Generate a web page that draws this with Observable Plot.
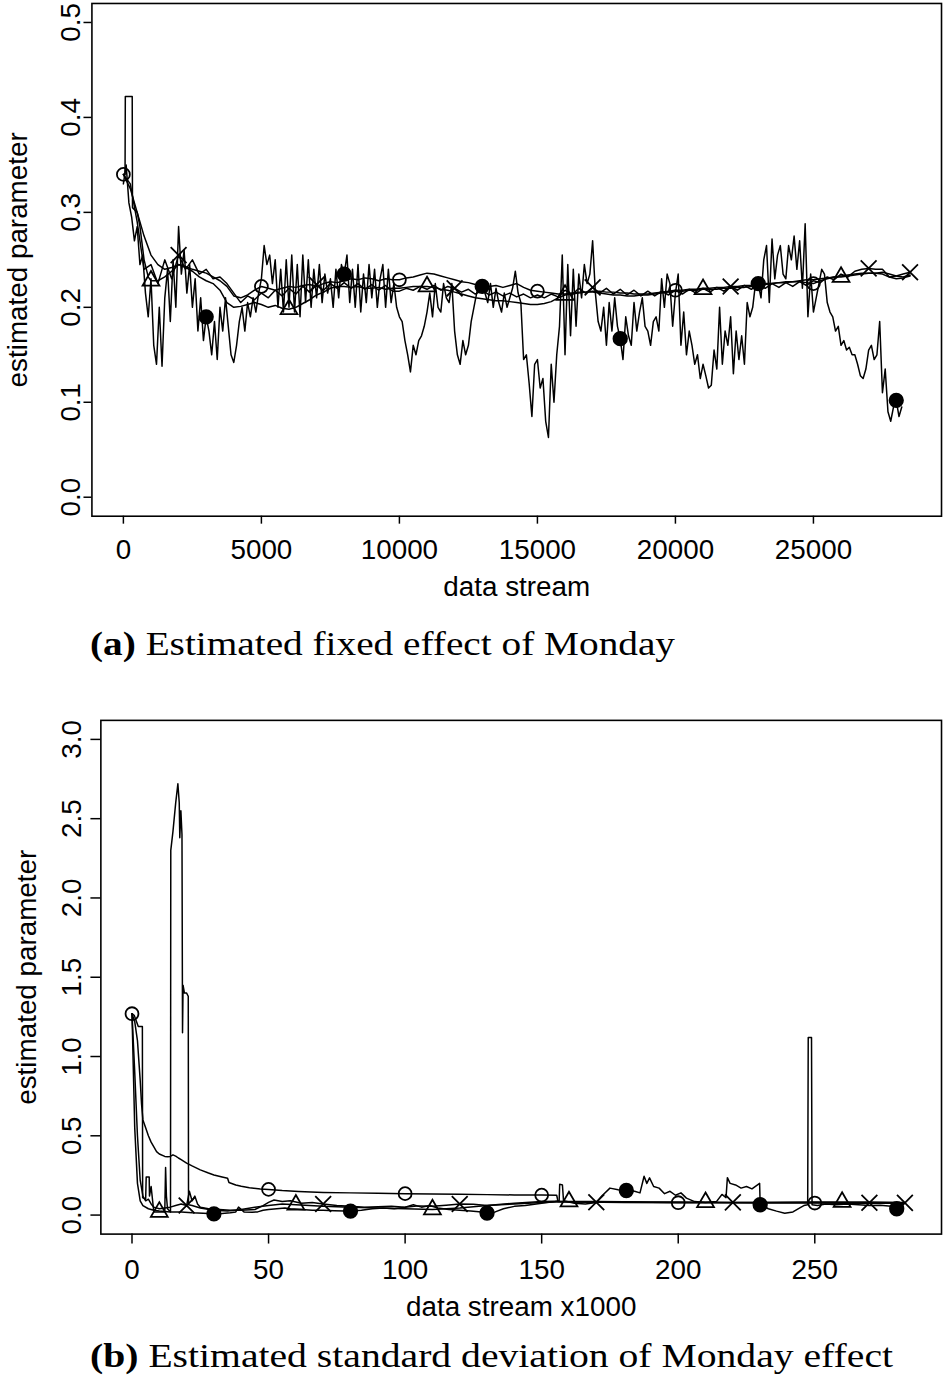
<!DOCTYPE html>
<html><head><meta charset="utf-8">
<script src="https://cdn.jsdelivr.net/npm/d3@7"></script>
<script src="https://cdn.jsdelivr.net/npm/@observablehq/plot@0.6"></script>
<style>
body{margin:0;background:#fff;width:944px;height:1376px;overflow:hidden;position:relative}
.panel{position:absolute;left:0;width:944px;overflow:hidden}
.cap{position:absolute;left:90px;font-family:"Liberation Serif","Times New Roman",serif;font-size:33px;white-space:nowrap;transform-origin:0 0;line-height:1;color:#000}
</style></head><body>
<div id="pa" class="panel" style="top:0;height:615px"></div>
<div id="capa" class="cap" style="top:628px"><b>(a)</b> Estimated fixed effect of Monday</div>
<div id="pb" class="panel" style="top:700px;height:640px"></div>
<div id="capb" class="cap" style="top:1340px"><b>(b)</b> Estimated standard deviation of Monday effect</div>
<script>
// ---------- Panel (a): estimated fixed effect of Monday ----------
const aXTicks = [0, 5000, 10000, 15000, 20000, 25000];
const aYTicks = [0, 0.1, 0.2, 0.3, 0.4, 0.5];
const aXLabel = "data stream";
// series A (open circle), step 250 from 0
const aStepA = 250;
const aA = [0.340,0.325,0.300,0.275,0.255,0.245,0.240,0.242,
0.245,0.243,0.240,0.238,0.236,0.232,0.228,0.222,
0.212,0.210,0.213,0.218,0.222,0.220,0.218,0.220,
0.222,0.221,0.223,0.224,0.222,0.225,0.227,0.226,
0.228,0.230,0.229,0.231,0.230,0.228,0.230,0.229,
0.229,0.231,0.232,0.234,0.236,0.235,0.233,0.231,
0.229,0.227,0.226,0.224,0.222,0.222,0.223,0.221,
0.223,0.225,0.221,0.218,0.217,0.216,0.215,0.214,
0.214,0.215,0.216,0.216,0.217,0.217,0.216,0.216,
0.215,0.215,0.214,0.214,0.214,0.215,0.216,0.217,
0.218,0.218,0.219,0.219,0.220,0.220,0.221,0.221,
0.222,0.222,0.223,0.223,0.224,0.225,0.225,0.226,
0.226,0.227,0.227,0.226,0.225,0.228,0.230,0.232,
0.233,0.234,0.235,0.236,0.236,0.236,0.237,0.235,
0.233,0.232,0.234];
// series B (triangle), [x, value]
const aB = [[0,0.340],[60,0.340],[70,0.422],[320,0.422],[330,0.305],[500,0.300],[600,0.285],[750,0.250],[900,0.232],[1000,0.228],[1250,0.228],[1500,0.232],[1750,0.238],[2000,0.245],[2250,0.242],[2500,0.238],[2750,0.232],[3000,0.228],[3250,0.225],[3500,0.218],[3750,0.205],[4000,0.200],[4250,0.201],[4500,0.203],[4750,0.205],[5000,0.203],[5250,0.200],[5500,0.202],[5750,0.199],[6000,0.198],[6250,0.200],[6500,0.204],[6750,0.208],[7000,0.213],[7250,0.216],[7500,0.220],[7750,0.222],[8000,0.222],[8250,0.221],[8500,0.222],[8750,0.220],[9000,0.220],[9250,0.221],[9500,0.219],[9750,0.220],[10000,0.220],[10250,0.221],[10500,0.222],[10750,0.222],[11000,0.222],[11250,0.221],[11500,0.219],[11750,0.218],[12000,0.216],[12250,0.214],[12500,0.212],[12750,0.210],[13000,0.209],[13250,0.208],[13500,0.207],[13750,0.207],[14000,0.206],[14250,0.205],[14500,0.204],[14750,0.203],[15000,0.203],[15250,0.204],[15500,0.206],[15750,0.210],[16000,0.213],[16250,0.214],[16500,0.215],[16750,0.216],[17000,0.216],[17250,0.215],[17500,0.214],[17750,0.213],[18000,0.213],[18250,0.212],[18500,0.212],[18750,0.213],[19000,0.213],[19250,0.214],[19500,0.215],[19750,0.216],[20000,0.217],[20250,0.217],[20500,0.218],[20750,0.218],[21000,0.219],[21250,0.219],[21500,0.219],[21750,0.220],[22000,0.220],[22250,0.221],[22500,0.221],[22750,0.222],[23000,0.223],[23250,0.224],[23500,0.225],[23750,0.226],[24000,0.227],[24250,0.227],[24500,0.228],[24750,0.229],[25000,0.229],[25250,0.230],[25500,0.231],[25750,0.232],[26000,0.232],[26250,0.233],[26500,0.234],[26750,0.235],[27000,0.236],[27250,0.236],[27500,0.235],[27750,0.232],[28000,0.230],[28250,0.231],[28500,0.233]];
// series C (cross), step 250 from 0
const aStepC = 250;
const aC = [0.340,0.330,0.290,0.240,0.245,0.225,0.250,0.230,
0.255,0.240,0.250,0.235,0.240,0.230,0.232,0.225,
0.215,0.205,0.212,0.208,0.215,0.210,0.218,0.212,
0.220,0.214,0.222,0.216,0.224,0.218,0.225,0.220,
0.226,0.220,0.225,0.219,0.224,0.218,0.223,0.217,
0.217,0.220,0.218,0.222,0.219,0.223,0.218,0.222,
0.220,0.216,0.219,0.214,0.218,0.213,0.216,0.212,
0.215,0.211,0.214,0.210,0.213,0.210,0.214,0.211,
0.218,0.213,0.220,0.215,0.221,0.215,0.220,0.214,
0.219,0.213,0.218,0.212,0.217,0.212,0.217,0.213,
0.218,0.214,0.219,0.215,0.220,0.216,0.221,0.217,
0.222,0.218,0.223,0.219,0.224,0.220,0.225,0.221,
0.226,0.222,0.227,0.223,0.228,0.226,0.232,0.229,
0.235,0.232,0.238,0.240,0.241,0.240,0.240,0.232,
0.233,0.235,0.237];
// series D (filled circle), step 100 from 0
const aStepD = 100;
const aD = [0.330,0.350,0.310,0.295,0.270,0.285,0.245,0.255,0.215,0.190,
0.230,0.160,0.140,0.200,0.138,0.210,0.240,0.185,0.250,0.200,
0.285,0.235,0.260,0.215,0.245,0.200,0.230,0.175,0.210,0.165,
0.190,0.175,0.150,0.185,0.145,0.200,0.175,0.210,0.180,0.150,
0.142,0.160,0.185,0.200,0.175,0.205,0.190,0.210,0.195,0.215,
0.230,0.265,0.245,0.255,0.225,0.250,0.200,0.240,0.195,0.250,
0.200,0.255,0.195,0.245,0.190,0.255,0.205,0.250,0.200,0.240,
0.210,0.245,0.205,0.235,0.215,0.230,0.200,0.240,0.210,0.245,
0.235,0.255,0.205,0.240,0.200,0.245,0.195,0.235,0.205,0.245,
0.210,0.240,0.200,0.230,0.245,0.200,0.240,0.205,0.225,0.200,
0.190,0.185,0.165,0.150,0.132,0.160,0.150,0.165,0.170,0.180,
0.195,0.215,0.190,0.225,0.200,0.195,0.225,0.210,0.205,0.225,
0.175,0.150,0.140,0.165,0.150,0.160,0.185,0.200,0.215,0.225,
0.222,0.215,0.205,0.225,0.200,0.220,0.205,0.195,0.215,0.200,
0.210,0.220,0.238,0.215,0.205,0.145,0.150,0.120,0.085,0.140,
0.145,0.115,0.125,0.080,0.063,0.140,0.100,0.150,0.180,0.255,
0.150,0.245,0.170,0.240,0.180,0.235,0.210,0.245,0.225,0.235,
0.270,0.215,0.185,0.175,0.200,0.160,0.205,0.175,0.210,0.180,
0.167,0.145,0.190,0.170,0.160,0.205,0.175,0.195,0.210,0.180,
0.175,0.160,0.185,0.190,0.175,0.230,0.200,0.235,0.225,0.180,
0.215,0.235,0.160,0.195,0.150,0.175,0.160,0.140,0.150,0.125,
0.140,0.128,0.115,0.118,0.155,0.135,0.200,0.140,0.175,0.160,
0.190,0.130,0.175,0.145,0.170,0.140,0.205,0.190,0.200,0.225,
0.225,0.210,0.250,0.265,0.205,0.272,0.230,0.255,0.265,0.235,
0.230,0.265,0.250,0.275,0.240,0.270,0.220,0.288,0.190,0.235,
0.195,0.210,0.225,0.240,0.235,0.205,0.195,0.190,0.175,0.180,
0.160,0.165,0.155,0.158,0.150,0.150,0.140,0.128,0.125,0.135,
0.155,0.160,0.145,0.150,0.185,0.110,0.135,0.090,0.080,0.095,
0.102,0.085,0.095];
const aMarkA = [0,5000,10000,15000,20000,25000];
const aMarkB = [1000,6000,11000,16000,21000,26000];
const aMarkC = [2000,7000,12000,17000,22000,27000,28500];
const aMarkD = [3000,8000,13000,18000,23000,28000];

// ---------- Panel (b): estimated standard deviation of Monday effect ----------
const bXTicks = [0, 50, 100, 150, 200, 250];
const bYTicks = [0, 0.5, 1, 1.5, 2, 2.5, 3];
const bXLabel = "data stream x1000";
const bA = [[0,1.27],[1,1.22],[2,1.10],[3,0.85],[3.5,0.70],[4,0.60],[5,0.55],[6,0.50],[7,0.46],[8,0.43],[9,0.40],[10,0.385],[12,0.37],[13,0.368],[14,0.37],[15,0.38],[16,0.372],[17,0.36],[18,0.35],[20,0.328],[22,0.31],[25,0.285],[28,0.265],[30,0.253],[33,0.24],[35,0.232],[35.5,0.205],[38,0.19],[40,0.182],[43,0.172],[47,0.165],[50,0.162],[55,0.155],[61,0.149],[70,0.143],[80,0.140],[90,0.137],[100,0.135],[110,0.133],[120,0.131],[130,0.129],[140,0.127],[150,0.126],[155.5,0.125],[156,0.085],[165,0.083],[180,0.080],[200,0.078],[220,0.077],[240,0.076],[250,0.076],[260,0.075],[270,0.075],[283,0.074]];
const bB = [[0,1.27],[0.8,1.26],[2.3,1.19],[3.8,1.19],[3.9,0.11],[5.0,0.10],[5.2,0.24],[6.3,0.24],[6.4,0.12],[7.0,0.18],[7.8,0.05],[8.0,0.02],[10,0.02],[12.0,0.02],[12.3,0.30],[12.6,0.12],[13.0,0.04],[14.1,0.02],[14.2,2.30],[15.0,2.42],[16.0,2.60],[16.8,2.72],[17.3,2.60],[17.5,2.38],[17.9,2.55],[18.3,2.40],[18.5,1.15],[18.7,1.45],[19.2,1.40],[20.0,1.40],[20.6,1.38],[20.7,0.065],[22,0.06],[25,0.045],[30,0.03],[35,0.025],[40,0.035],[45,0.05],[50,0.06],[55,0.07],[60,0.065],[65,0.06],[70,0.055],[80,0.05],[90,0.045],[100,0.04],[110,0.035],[120,0.045],[130,0.06],[140,0.075],[150,0.085],[155,0.088],[160,0.086],[170,0.085],[180,0.084],[190,0.083],[200,0.082],[210,0.081],[220,0.080],[230,0.080],[240,0.081],[250,0.082],[260,0.083],[270,0.082],[283,0.080]];
const bC = [[0,1.27],[1,0.90],[2,0.50],[3,0.22],[4,0.12],[5,0.09],[6,0.10],[7,0.07],[8,0.05],[10,0.04],[12,0.045],[14,0.05],[16,0.06],[18,0.07],[20,0.06],[21,0.15],[22,0.09],[23,0.12],[24,0.07],[25,0.05],[28,0.04],[32,0.035],[36,0.03],[40,0.03],[45,0.035],[48,0.06],[50,0.08],[52,0.095],[55,0.085],[58,0.09],[62,0.075],[66,0.08],[70,0.07],[75,0.06],[80,0.055],[85,0.05],[90,0.052],[95,0.055],[100,0.05],[105,0.058],[110,0.055],[115,0.062],[120,0.07],[125,0.068],[130,0.06],[135,0.065],[140,0.07],[145,0.075],[150,0.08],[155,0.083],[160,0.082],[170,0.081],[180,0.082],[190,0.081],[200,0.080],[210,0.080],[220,0.080],[230,0.080],[240,0.079],[250,0.079],[260,0.078],[270,0.078],[283,0.077]];
const bD = [[0,1.27],[1,0.55],[2,0.20],[3,0.09],[4,0.06],[6,0.04],[8,0.03],[10,0.025],[14,0.02],[18,0.02],[22,0.015],[26,0.012],[30,0.008],[33,0.010],[36,0.015],[38,0.02],[39,0.05],[41,0.02],[44,0.018],[46,0.02],[48,0.03],[50,0.035],[53,0.04],[56,0.045],[58,0.04],[62,0.035],[66,0.03],[70,0.03],[74,0.028],[78,0.026],[80,0.025],[84,0.03],[88,0.04],[92,0.045],[96,0.04],[100,0.05],[103,0.065],[106,0.05],[109,0.06],[112,0.045],[116,0.035],[120,0.03],[124,0.025],[128,0.02],[130,0.013],[133,0.02],[136,0.04],[140,0.055],[144,0.06],[148,0.07],[152,0.08],[155,0.085],[156.4,0.09],[156.6,0.195],[157.6,0.19],[158,0.09],[162,0.075],[166,0.07],[170,0.08],[172,0.12],[175,0.17],[178,0.16],[181,0.155],[184,0.15],[186,0.14],[187.5,0.245],[188.5,0.20],[189.5,0.235],[191,0.18],[193,0.17],[195,0.135],[197,0.15],[199,0.125],[201,0.14],[203,0.107],[206,0.085],[210,0.08],[214,0.085],[216,0.13],[217.5,0.11],[218,0.236],[219,0.20],[221,0.19],[223,0.17],[225,0.18],[227,0.165],[229.8,0.20],[230,0.065],[233,0.04],[236,0.025],[239,0.012],[242,0.02],[245,0.05],[246,0.06],[247.4,0.065],[247.6,1.12],[248.8,1.12],[249,0.065],[251,0.06],[254,0.07],[258,0.065],[262,0.07],[266,0.065],[270,0.06],[274,0.062],[278,0.055],[280,0.04],[281.5,0.025]];
const bMarkA = [0,50,100,150,200,250];
const bMarkB = [10,60,110,160,210,260];
const bMarkC = [20,70,120,170,220,270,283];
const bMarkD = [30,80,130,180,230,280];

// ---------- helpers ----------
const fromStep = (vals, step) => vals.map((v, i) => [i * step, v]);
const pick = (pts, xs) => xs.map(mx => d3.least(pts, p => Math.abs(p[0] - mx)));

function panel(el, o) {
  const lines = o.series.map(s => Plot.line(s.pts, {x: d => d[0], y: d => d[1], stroke: "black", strokeWidth: 1.5}));
  const dots = o.series.map(s => Plot.dot(pick(s.pts, s.marks), {
    x: d => d[0], y: d => d[1], symbol: s.symbol, r: s.r,
    stroke: "black", strokeWidth: 1.8, fill: s.filled ? "black" : "none"
  }));
  const svg = Plot.plot({
    width: 950, height: o.height,
    marginTop: o.mt, marginBottom: o.mb, marginLeft: o.ml, marginRight: 3,
    x: {domain: o.xdom}, y: {domain: o.ydom},
    style: {fontFamily: "'Liberation Sans', Arial, sans-serif", fontSize: "28px", color: "black", background: "white"},
    marks: [
      ...lines, ...dots,
      Plot.frame({stroke: "black", strokeWidth: 1.6}),
      Plot.axisX({ticks: o.xticks, tickSize: o.tickSize, tickPadding: o.xpad, tickFormat: d => String(d), strokeWidth: 1.5, label: null}),
      Plot.axisY({ticks: o.yticks, tickSize: o.tickSize, tickRotate: -90, tickPadding: o.ypad, tickFormat: d3.format(".1f"), strokeWidth: 1.5, label: null}),
      Plot.text([o.xlabel], {frameAnchor: "bottom", dy: o.xlabelDy, lineAnchor: "middle", textAnchor: "middle", text: d => d, fontSize: 28}),
      Plot.text(["estimated parameter"], {frameAnchor: "left", dx: o.ylabelDx, rotate: -90, lineAnchor: "middle", textAnchor: "middle", text: d => d, fontSize: 28})
    ]
  });
  document.getElementById(el).appendChild(svg);
}

panel("pa", {
  height: 615, mt: 3, mb: 96, ml: 92,
  xdom: [-1140, 29640], ydom: [-0.02, 0.52],
  xticks: aXTicks, yticks: aYTicks, tickSize: 8, xpad: 15, ypad: 4, xlabel: aXLabel, xlabelDy: 71, ylabelDx: -74,
  series: [
    {pts: fromStep(aA, aStepA), marks: aMarkA, symbol: "circle", r: 6.5},
    {pts: aB, marks: aMarkB, symbol: "triangle", r: 6.3},
    {pts: fromStep(aC, aStepC), marks: aMarkC, symbol: "times", r: 7.3},
    {pts: fromStep(aD, aStepD), marks: aMarkD, symbol: "circle", r: 6.8, filled: true}
  ]
});
panel("pb", {
  height: 640, mt: 20, mb: 103, ml: 101,
  xdom: [-11.4, 296.4], ydom: [-0.12, 3.12],
  xticks: bXTicks, yticks: bYTicks, tickSize: 10, xpad: 15, ypad: 10, xlabel: bXLabel, xlabelDy: 73, ylabelDx: -74,
  series: [
    {pts: bA, marks: bMarkA, symbol: "circle", r: 6.5},
    {pts: bB, marks: bMarkB, symbol: "triangle", r: 6.3},
    {pts: bC, marks: bMarkC, symbol: "times", r: 7.3},
    {pts: bD, marks: bMarkD, symbol: "circle", r: 6.8, filled: true}
  ]
});

for (const [id, w] of [["capa", 585], ["capb", 803]]) {
  const el = document.getElementById(id);
  const cw = el.getBoundingClientRect().width;
  el.style.transform = `scaleX(${w / cw})`;
}
</script>
</body></html>
